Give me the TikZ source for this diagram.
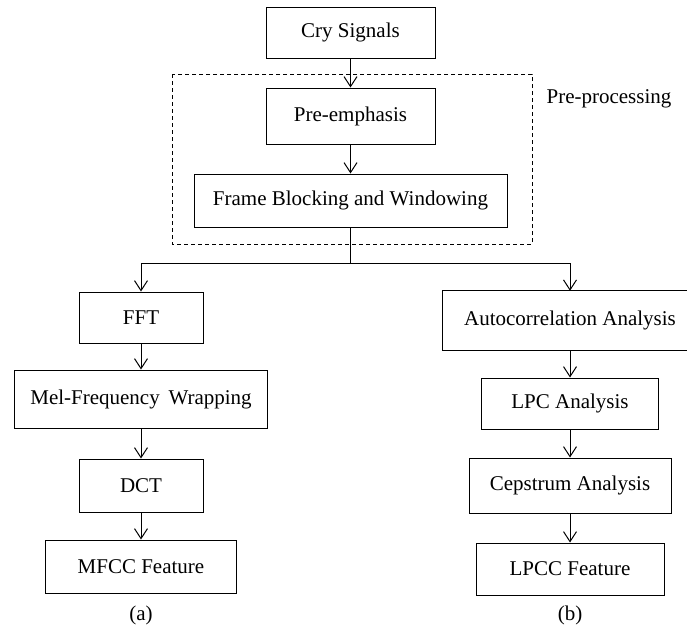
\documentclass[tikz,border=0pt]{standalone}
\usepackage{fontspec}
\setmainfont{Liberation Serif}
\usetikzlibrary{arrows.meta,calc}
\begin{document}
\begin{tikzpicture}[x=1pt,y=-1pt,
  every node/.style={font=\fontsize{21}{24}\selectfont},
  box/.style={draw, line width=1pt, rectangle, inner sep=0pt, align=center},
  link/.style={line width=1pt, -{Straight Barb[length=10pt,width=13pt,line width=1pt]}},
  plain/.style={line width=1pt}]
\useasboundingbox (0,0) rectangle (687,630);
% top chain
\node[box, minimum width=169pt, minimum height=51pt] (cry) at (350.5,32.5) {Cry Signals};
\node[box, minimum width=169pt, minimum height=56pt] (pre) at (350.5,116) {Pre-emphasis};
\node[box, minimum width=313pt, minimum height=53pt] (frame) at (350.5,200.5) {Frame Blocking and Windowing};
\draw[line width=1pt, dash pattern=on 4pt off 3pt] (172,74) rectangle (532,244);
\node (pp) at (609,99) {Pre-processing};
\draw[link] (cry) -- (pre);
\draw[link] (pre) -- (frame);
% branching
\coordinate (br) at (350.5,263);
\coordinate (bl) at (141,263);
\coordinate (brr) at (570,263);
% left column
\node[box, minimum width=124pt, minimum height=51pt] (fft) at (141,317.5) {FFT};
\node[box, minimum width=253pt, minimum height=58pt] (mel) at (141,399) {Mel-Frequency\, Wrapping};
\node[box, minimum width=124pt, minimum height=53pt] (dct) at (141,485.5) {DCT};
\node[box, minimum width=191pt, minimum height=53pt] (mfcc) at (141,566.5) {MFCC Feature};
\node (la) at (141,615) {(a)};
% right column
\node[inner sep=0pt, minimum width=254pt, minimum height=59pt] (auto) at (570,320.5) {Autocorrelation Analysis};
\draw[plain] ($(auto.north east)+(-10,0)$) -- (auto.north west) -- (auto.south west) -- ($(auto.south east)+(-10,0)$);
\node[box, minimum width=177pt, minimum height=51pt] (lpc) at (570,403.5) {LPC Analysis};
\node[box, minimum width=202pt, minimum height=55pt] (cep) at (570,485.5) {Cepstrum Analysis};
\node[box, minimum width=188pt, minimum height=52pt] (lpcc) at (570,569) {LPCC Feature};
\node (lb) at (570,615) {(b)};
% connectors
\draw[plain] (frame.south) -- (br);
\draw[plain] (bl) -- (brr);
\draw[link] (bl) -- (fft.north);
\draw[link] (brr) -- (auto.north);
\draw[link] (fft) -- (mel);
\draw[link] (mel) -- (dct);
\draw[link] (dct) -- (mfcc);
\draw[link] (auto) -- (lpc);
\draw[link] (lpc) -- (cep);
\draw[link] (cep) -- (lpcc);
\end{tikzpicture}
\end{document}
